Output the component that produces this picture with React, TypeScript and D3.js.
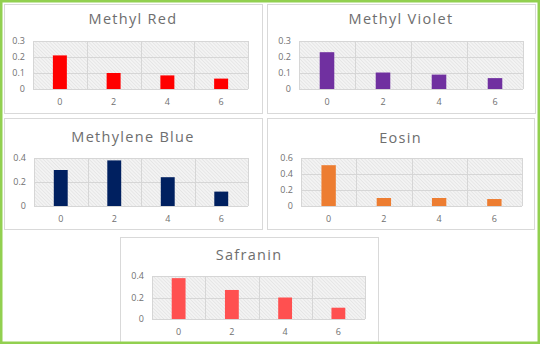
import React from "react";
import * as d3 from "d3";

const doses = ["0", "2", "4", "6"];
const methylRed = [0.21, 0.1, 0.085, 0.065];
const methylViolet = [0.23, 0.103, 0.09, 0.068];
const methyleneBlue = [0.3, 0.38, 0.24, 0.12];
const eosin = [0.51, 0.1, 0.1, 0.087];
const safranin = [0.38, 0.27, 0.2, 0.105];
const ticks03 = [0, 0.1, 0.2, 0.3];
const ticks04 = [0, 0.2, 0.4];
const ticks06 = [0, 0.2, 0.4, 0.6];
const titles = ["Methyl Red", "Methyl Violet", "Methylene Blue", "Eosin", "Safranin"];

type Panel = {
  title: string;
  values: number[];
  ticks: number[];
  color: string;
  box: [number, number, number, number];
  plot: [number, number, number, number];
  titleY: number;
};

const panels: Panel[] = [
  { title: titles[0], values: methylRed, ticks: ticks03, color: "#ff0000", box: [4, 4, 262, 113], plot: [33, 41, 248, 89], titleY: 24 },
  { title: titles[1], values: methylViolet, ticks: ticks03, color: "#7030a0", box: [267, 4, 535, 113], plot: [299, 41, 523, 89], titleY: 24 },
  { title: titles[2], values: methyleneBlue, ticks: ticks04, color: "#002060", box: [4, 118, 262, 229], plot: [34, 158, 248, 206], titleY: 142 },
  { title: titles[3], values: eosin, ticks: ticks06, color: "#ed7d31", box: [267, 118, 534, 229], plot: [301, 158, 522, 206], titleY: 143 },
  { title: titles[4], values: safranin, ticks: ticks04, color: "#ff5050", box: [120, 237, 378, 352], plot: [152, 276, 365, 319], titleY: 260 },
];

const fmt = (v: number) => (v === 0 ? "0" : String(+v.toFixed(1)));

function Chart({ p }: { p: Panel }) {
  const [x0, y0, x1, y1] = p.plot;
  const x = d3.scaleBand<string>().domain(doses).range([x0, x1]).paddingInner(0.74).paddingOuter(0.37);
  const band = d3.scaleBand<string>().domain(doses).range([x0, x1]);
  const yMax = p.ticks[p.ticks.length - 1];
  const y = d3.scaleLinear().domain([0, yMax]).range([y1, y0]);
  const [bx0, by0, bx1, by1] = p.box;
  return (
    <g>
      <rect x={bx0 + 0.5} y={by0 + 0.5} width={bx1 - bx0} height={by1 - by0} fill="#fff" stroke="#d9d9d9" strokeWidth={1} />
      <text x={(bx0 + bx1) / 2} y={p.titleY} textAnchor="middle" fontFamily="'Open Sans', sans-serif" fontSize={14.5} fill="#6e6e6e" letterSpacing={1.3}>
        {p.title}
      </text>
      <rect x={x0} y={y0} width={x1 - x0} height={y1 - y0} fill="url(#hatch)" />
      {p.ticks.map((t) => (
        <line key={"h" + t} x1={x0} x2={x1} y1={Math.round(y(t)) + 0.5} y2={Math.round(y(t)) + 0.5} stroke="#d6d6d6" strokeWidth={1} />
      ))}
      {doses.map((d) => (
        <line key={"v" + d} x1={Math.round(band(d)!) + 0.5} x2={Math.round(band(d)!) + 0.5} y1={y0} y2={y1} stroke="#d6d6d6" strokeWidth={1} />
      ))}
      <line x1={x1 + 0.5} x2={x1 + 0.5} y1={y0} y2={y1} stroke="#d6d6d6" strokeWidth={1} />
      {p.values.map((v, i) => (
        <rect key={"b" + i} x={x(doses[i])!} y={y(v)} width={x.bandwidth()} height={y(0) - y(v)} fill={p.color} />
      ))}
      {p.ticks.map((t) => (
        <text key={"yl" + t} x={x0 - 8} y={y(t)} dy="0.35em" textAnchor="end" fontFamily="'Open Sans', sans-serif" fontSize={9} fill="#707070">
          {fmt(t)}
        </text>
      ))}
      {doses.map((d) => (
        <text key={"xl" + d} x={band(d)! + band.bandwidth() / 2} y={y1 + 13} dy="0.35em" textAnchor="middle" fontFamily="'Open Sans', sans-serif" fontSize={9} fill="#707070">
          {d}
        </text>
      ))}
    </g>
  );
}

export default function App() {
  return (
    <svg width={540} height={344} style={{ position: "absolute", left: 0, top: 0, display: "block" }}>
      <defs>
        <pattern id="hatch" width={2.5} height={2.5} patternUnits="userSpaceOnUse" patternTransform="rotate(-45)">
          <rect width={2.5} height={2.5} fill="#f3f3f3" />
          <line x1={0} y1={0} x2={0} y2={2.5} stroke="#d9d9d9" strokeWidth={0.9} />
        </pattern>
      </defs>
      <rect x={0} y={0} width={540} height={344} fill="#fff" />
      {panels.map((p, i) => (
        <Chart key={i} p={p} />
      ))}
      <rect x={1.25} y={1.25} width={537.5} height={341.5} fill="none" stroke="#92d050" strokeWidth={2.5} />
    </svg>
  );
}
